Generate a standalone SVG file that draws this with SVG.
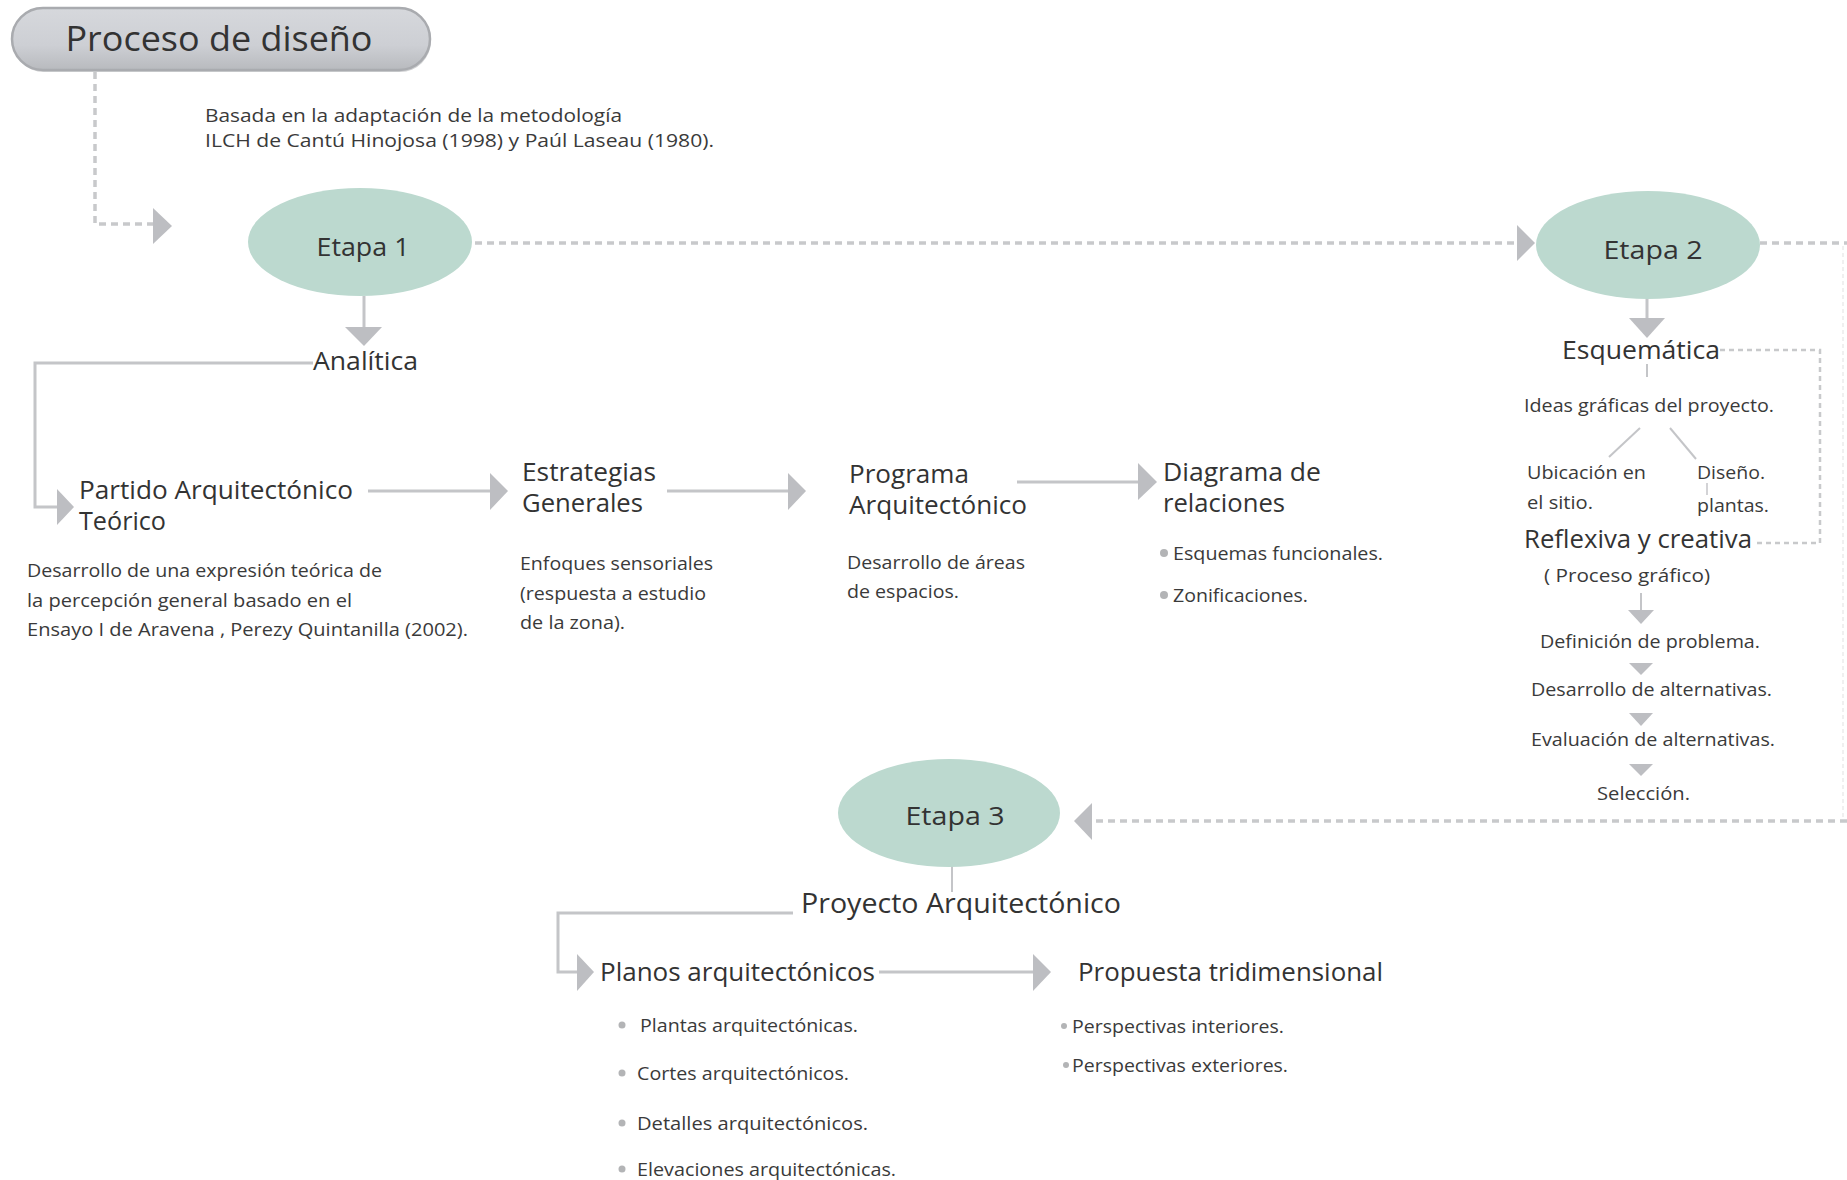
<svg xmlns="http://www.w3.org/2000/svg" width="1847" height="1180" viewBox="0 0 1847 1180">
<style>
.h{font-family:"Open Sans","Liberation Sans",sans-serif;font-size:25px;fill:#333;}
.e{font-family:"Open Sans","Liberation Sans",sans-serif;font-size:26px;fill:#333;text-anchor:middle;}
.d{font-family:"Open Sans","Liberation Sans",sans-serif;font-size:19px;fill:#3a3a3a;}
.s{font-family:"Open Sans","Liberation Sans",sans-serif;font-size:18px;fill:#3a3a3a;}
.line{fill:none;stroke:#c4c5c8;stroke-width:3;}
.dash{fill:none;stroke:#c8c9cb;stroke-width:3.5;stroke-dasharray:7 5;}
.dash2{fill:none;stroke:#c8c9cb;stroke-width:2.5;stroke-dasharray:5 4;}
.faint{fill:none;stroke:#f0f0f0;stroke-width:2;stroke-dasharray:4 3;}
.ah{fill:#bdbec2;}
.ell{fill:#bcd9cf;}
.dot{fill:#b3b4b6;}
</style>
<defs>
  <linearGradient id="pill" x1="0" y1="0" x2="0" y2="1">
    <stop offset="0" stop-color="#d6d8dc"/>
    <stop offset="0.6" stop-color="#cdcfd4"/>
    <stop offset="1" stop-color="#b8babe"/>
  </linearGradient>
</defs>
<rect width="1847" height="1180" fill="#ffffff"/>

<g id="connectors">
  <path class="dash" d="M95 72 V224 H153"/>
  <polygon class="ah" points="153,208 172,226 153,244"/>
  <path class="dash" d="M475 243 H1517"/>
  <polygon class="ah" points="1517,225 1535,243 1517,261"/>
  <path class="dash" d="M1760 243 H1847"/>
  <path class="faint" d="M1843 246 V818"/>
  <path class="dash" d="M1847 821 H1092"/>
  <polygon class="ah" points="1092,803 1074,821 1092,840"/>
  <path class="line" d="M364 296 V328"/>
  <polygon class="ah" points="345,327 382,327 364,346"/>
  <path class="line" d="M313 363 H35 V507 H58"/>
  <polygon class="ah" points="57,489 74,507 57,525"/>
  <path class="line" d="M368 491 H491"/>
  <polygon class="ah" points="490,473 508,491 490,510"/>
  <path class="line" d="M667 491 H789"/>
  <polygon class="ah" points="788,473 806,491 788,510"/>
  <path class="line" d="M1017 482 H1139"/>
  <polygon class="ah" points="1138,463 1157,482 1138,500"/>
  <path class="line" d="M1647 298 V319"/>
  <polygon class="ah" points="1629,318 1665,318 1647,338"/>
  <path class="dash2" d="M1720 350 H1820 V543 H1753"/>
  <path class="line" d="M1647 364 V377" style="stroke-width:2"/>
  <path class="line" d="M1640 428 L1609 457" style="stroke-width:2"/>
  <path class="line" d="M1670 428 L1696 459" style="stroke-width:2"/>
  <path class="line" d="M1707 483 V495" style="stroke-width:1.5"/>
  <path class="line" d="M1641 593 V611" style="stroke-width:2"/>
  <polygon class="ah" points="1628,610 1654,610 1641,624"/>
  <polygon class="ah" points="1629,663 1653,663 1641,675"/>
  <polygon class="ah" points="1629,713 1653,713 1641,726"/>
  <polygon class="ah" points="1629,764 1653,764 1641,776"/>
  <path class="line" d="M952 865 V892" style="stroke-width:2"/>
  <path class="line" d="M793 913 H558 V972 H578"/>
  <polygon class="ah" points="577,954 594,972 577,991"/>
  <path class="line" d="M879 972 H1034"/>
  <polygon class="ah" points="1033,954 1051,972 1033,991"/>
</g>

<g id="title">
  <rect x="13" y="10" width="418" height="62" rx="31" fill="#9fa1a5" opacity="0.5"/>
  <rect x="12" y="8" width="418" height="62" rx="31" fill="url(#pill)" stroke="#a9abaf" stroke-width="2.5"/>
  <text x="219" y="51" class="e" style="font-size:34px" textLength="307" lengthAdjust="spacingAndGlyphs">Proceso de diseño</text>
</g>

<g id="subtitle">
  <text x="205" y="122" class="s" textLength="417" lengthAdjust="spacingAndGlyphs">Basada en la adaptación de la metodología</text>
  <text x="205" y="147" class="s" textLength="509" lengthAdjust="spacingAndGlyphs">ILCH  de Cantú Hinojosa  (1998) y  Paúl Laseau (1980).</text>
</g>

<g id="etapa1">
  <ellipse class="ell" cx="360" cy="242" rx="112" ry="54"/>
  <text x="363" y="256" class="e" textLength="93" lengthAdjust="spacingAndGlyphs">Etapa 1</text>
</g>

<g id="etapa2">
  <ellipse class="ell" cx="1648" cy="245" rx="112" ry="54"/>
  <text x="1653" y="259" class="e" textLength="99" lengthAdjust="spacingAndGlyphs">Etapa 2</text>
</g>

<g id="etapa3">
  <ellipse class="ell" cx="949" cy="813" rx="111" ry="54"/>
  <text x="955" y="825" class="e" textLength="99" lengthAdjust="spacingAndGlyphs">Etapa 3</text>
</g>

<g id="analitica">
  <text x="313" y="370" class="h" textLength="105" lengthAdjust="spacingAndGlyphs">Analítica</text>
</g>

<g id="partido">
  <text x="79" y="499" class="h" textLength="274" lengthAdjust="spacingAndGlyphs">Partido Arquitectónico</text>
  <text x="79" y="530" class="h" textLength="87" lengthAdjust="spacingAndGlyphs">Teórico</text>
  <text x="27" y="577" class="d" textLength="355" lengthAdjust="spacingAndGlyphs">Desarrollo de una expresión teórica de</text>
  <text x="27" y="607" class="d" textLength="325" lengthAdjust="spacingAndGlyphs">la percepción  general basado en el</text>
  <text x="27" y="636" class="d" textLength="441" lengthAdjust="spacingAndGlyphs">Ensayo I de Aravena , Perezy  Quintanilla (2002).</text>
</g>

<g id="estrategias">
  <text x="522" y="481" class="h" textLength="134" lengthAdjust="spacingAndGlyphs">Estrategias</text>
  <text x="522" y="512" class="h" textLength="121" lengthAdjust="spacingAndGlyphs">Generales</text>
  <text x="520" y="570" class="d" textLength="193" lengthAdjust="spacingAndGlyphs">Enfoques sensoriales</text>
  <text x="520" y="600" class="d" textLength="186" lengthAdjust="spacingAndGlyphs">(respuesta a estudio</text>
  <text x="520" y="629" class="d" textLength="105" lengthAdjust="spacingAndGlyphs">de la zona).</text>
</g>

<g id="programa">
  <text x="849" y="483" class="h" textLength="120" lengthAdjust="spacingAndGlyphs">Programa</text>
  <text x="849" y="514" class="h" textLength="178" lengthAdjust="spacingAndGlyphs">Arquitectónico</text>
  <text x="847" y="569" class="d" textLength="178" lengthAdjust="spacingAndGlyphs">Desarrollo de áreas</text>
  <text x="847" y="598" class="d" textLength="112" lengthAdjust="spacingAndGlyphs">de espacios.</text>
</g>

<g id="diagrama">
  <text x="1163" y="481" class="h" textLength="158" lengthAdjust="spacingAndGlyphs">Diagrama de</text>
  <text x="1163" y="512" class="h" textLength="122" lengthAdjust="spacingAndGlyphs">relaciones</text>
  <circle class="dot" cx="1164" cy="553" r="4"/>
  <text x="1173" y="560" class="d" textLength="210" lengthAdjust="spacingAndGlyphs">Esquemas funcionales.</text>
  <circle class="dot" cx="1164" cy="595" r="4"/>
  <text x="1173" y="602" class="d" textLength="135" lengthAdjust="spacingAndGlyphs">Zonificaciones.</text>
</g>

<g id="esquematica">
  <text x="1562" y="359" class="h" textLength="158" lengthAdjust="spacingAndGlyphs">Esquemática</text>
  <text x="1524" y="412" class="d" textLength="250" lengthAdjust="spacingAndGlyphs">Ideas gráficas del proyecto.</text>
  <text x="1527" y="479" class="d" textLength="119" lengthAdjust="spacingAndGlyphs">Ubicación en</text>
  <text x="1527" y="509" class="d" textLength="66" lengthAdjust="spacingAndGlyphs">el sitio.</text>
  <text x="1697" y="479" class="d" textLength="68" lengthAdjust="spacingAndGlyphs">Diseño.</text>
  <text x="1697" y="512" class="d" textLength="72" lengthAdjust="spacingAndGlyphs">plantas.</text>
</g>

<g id="reflexiva">
  <text x="1524" y="548" class="h" textLength="228" lengthAdjust="spacingAndGlyphs">Reflexiva y creativa</text>
  <text x="1544" y="582" class="d" textLength="166" lengthAdjust="spacingAndGlyphs">( Proceso gráfico)</text>
  <text x="1540" y="648" class="d" textLength="220" lengthAdjust="spacingAndGlyphs">Definición de problema.</text>
  <text x="1531" y="696" class="d" textLength="241" lengthAdjust="spacingAndGlyphs">Desarrollo de alternativas.</text>
  <text x="1531" y="746" class="d" textLength="244" lengthAdjust="spacingAndGlyphs">Evaluación de alternativas.</text>
  <text x="1597" y="800" class="d" textLength="93" lengthAdjust="spacingAndGlyphs">Selección.</text>
</g>

<g id="proyecto">
  <text x="801" y="913" class="h" style="font-size:27px" textLength="320" lengthAdjust="spacingAndGlyphs">Proyecto Arquitectónico</text>
</g>

<g id="planos">
  <text x="600" y="981" class="h" textLength="275" lengthAdjust="spacingAndGlyphs">Planos arquitectónicos</text>
  <circle class="dot" cx="622" cy="1025" r="3.5"/>
  <text x="640" y="1032" class="d" textLength="218" lengthAdjust="spacingAndGlyphs">Plantas arquitectónicas.</text>
  <circle class="dot" cx="622" cy="1073" r="3.5"/>
  <text x="637" y="1080" class="d" textLength="212" lengthAdjust="spacingAndGlyphs">Cortes arquitectónicos.</text>
  <circle class="dot" cx="622" cy="1123" r="3.5"/>
  <text x="637" y="1130" class="d" textLength="231" lengthAdjust="spacingAndGlyphs">Detalles  arquitectónicos.</text>
  <circle class="dot" cx="622" cy="1169" r="3.5"/>
  <text x="637" y="1176" class="d" textLength="259" lengthAdjust="spacingAndGlyphs">Elevaciones arquitectónicas.</text>
</g>

<g id="propuesta">
  <text x="1078" y="981" class="h" textLength="305" lengthAdjust="spacingAndGlyphs">Propuesta tridimensional</text>
  <circle class="dot" cx="1064" cy="1026" r="3"/>
  <text x="1072" y="1033" class="d" textLength="212" lengthAdjust="spacingAndGlyphs">Perspectivas interiores.</text>
  <circle class="dot" cx="1066" cy="1065" r="3"/>
  <text x="1072" y="1072" class="d" textLength="216" lengthAdjust="spacingAndGlyphs">Perspectivas exteriores.</text>
</g>
</svg>
